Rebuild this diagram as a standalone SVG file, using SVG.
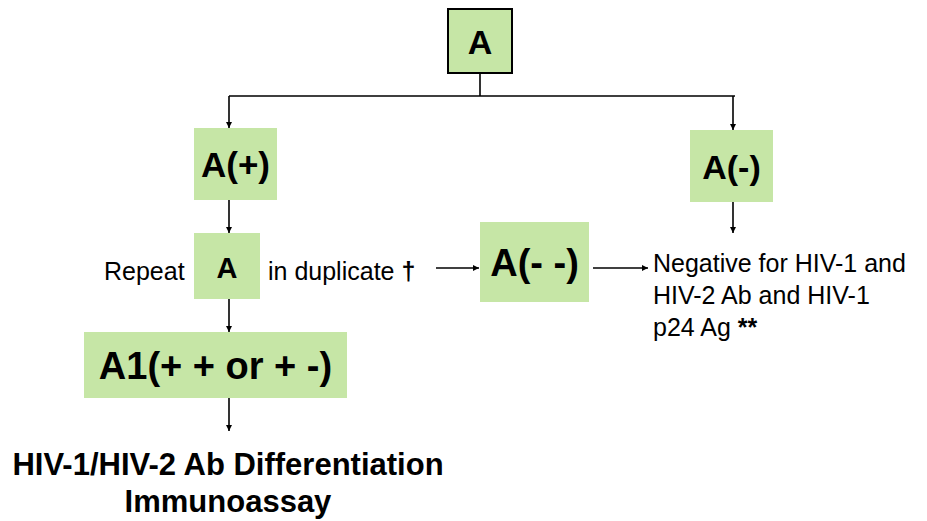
<svg xmlns="http://www.w3.org/2000/svg" width="927" height="521" viewBox="0 0 927 521">
<style>
.box{fill:#c6e6a6}
.bt{font-family:"Liberation Sans",Arial,sans-serif;font-weight:bold;fill:#000;text-anchor:middle}
.t{font-family:"Liberation Sans",Arial,sans-serif;font-size:25px;fill:#000}
.c{stroke:#000;stroke-width:1.6;fill:none}
</style>
<defs>
<marker id="ah" viewBox="0 0 10 10" refX="10" refY="5" markerWidth="6" markerHeight="6" markerUnits="userSpaceOnUse" orient="auto">
<path d="M0,0 L10,5 L0,10 z" fill="#000"/>
</marker>
</defs>
<rect width="927" height="521" fill="#fff"/>
<g id="connectors">
<path class="c" d="M480,73 V96 M229,96 H735"/>
<path class="c" d="M229,96 V128" marker-end="url(#ah)"/>
<path class="c" d="M733,96 V130" marker-end="url(#ah)"/>
<path class="c" d="M229,200 V233" marker-end="url(#ah)"/>
<path class="c" d="M733,202 V233" marker-end="url(#ah)"/>
<path class="c" d="M229,299 V332" marker-end="url(#ah)"/>
<path class="c" d="M229,398 V431" marker-end="url(#ah)"/>
<path class="c" d="M436,268 H479" marker-end="url(#ah)"/>
<path class="c" d="M593,268 H648" marker-end="url(#ah)"/>
</g>
<g id="nodeA">
<rect class="box" x="448" y="9" width="64" height="64" stroke="#000" stroke-width="2"/>
<text class="bt" x="480" y="54" font-size="34">A</text>
</g>
<g id="nodeApos">
<rect class="box" x="194" y="128" width="83" height="72"/>
<text class="bt" x="235.5" y="177" font-size="35">A(+)</text>
</g>
<g id="nodeAneg">
<rect class="box" x="690" y="130" width="83" height="72"/>
<text class="bt" x="731.5" y="179" font-size="34">A(-)</text>
</g>
<g id="nodeRepeat">
<rect class="box" x="194" y="233" width="66" height="66"/>
<text class="bt" x="227" y="278" font-size="29">A</text>
<text class="t" x="104" y="280">Repeat</text>
<text class="t" x="268" y="280">in duplicate <tspan font-weight="bold">†</tspan></text>
</g>
<g id="nodeAnegneg">
<rect class="box" x="480" y="222" width="109" height="80"/>
<text class="bt" x="534.5" y="276" font-size="38">A(- -)</text>
</g>
<g id="nodeNegative">
<text class="t" x="653" y="272">Negative for HIV-1 and</text>
<text class="t" x="653" y="304">HIV-2 Ab and HIV-1</text>
<text class="t" x="653" y="336">p24 Ag <tspan font-weight="bold">**</tspan></text>
</g>
<g id="nodeA1">
<rect class="box" x="84" y="332" width="263" height="66"/>
<text class="bt" x="215.5" y="379" font-size="38">A1(+ + or + -)</text>
</g>
<g id="nodeDiff">
<text class="bt" x="228" y="475" font-size="31">HIV-1/HIV-2 Ab Differentiation</text>
<text class="bt" x="228" y="512" font-size="31">Immunoassay</text>
</g>
</svg>
